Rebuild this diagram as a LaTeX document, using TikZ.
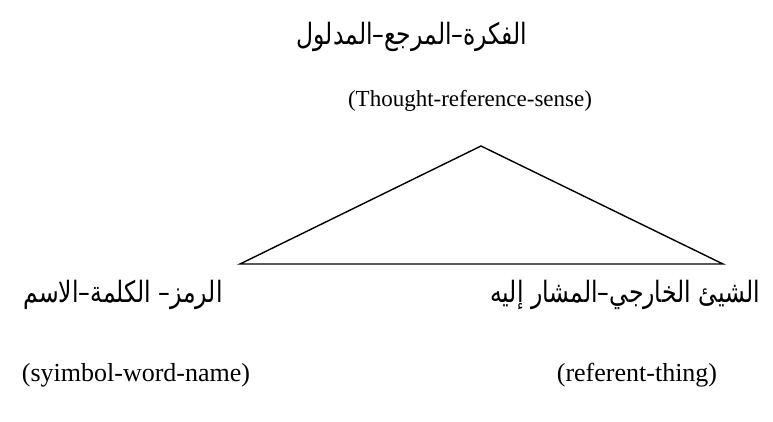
\documentclass[tikz,border=0pt]{standalone}
\usepackage{fontspec}
\setmainfont{Liberation Serif}
\newfontfamily\arabicfont[Script=Arabic]{DejaVu Sans}
\TeXXeTstate=1
\newcommand{\tallar}[1]{\scalebox{1}[1.25]{\arabicfont\beginR #1\endR}}
\begin{document}
\begin{tikzpicture}[x=1pt,y=-1pt,
  ar/.style={font=\fontsize{23.5}{28}\selectfont, anchor=base, inner sep=0pt},
  en/.style={font=\fontsize{23}{27}\selectfont, anchor=base, inner sep=0pt},
  enb/.style={font=\fontsize{26}{30}\selectfont, anchor=base, inner sep=0pt},
  tri/.style={draw=black, line width=1.4pt, line join=miter}]
\useasboundingbox (0,0) rectangle (773,421);
\node[ar] (top) at (412,44) {\tallar{الفكرة–المرجع–المدلول}};
\node[en] (topen) at (470,106) {(Thought-reference-sense)};
\coordinate (apex) at (481,146);
\coordinate (bl) at (240,264);
\coordinate (br) at (723,264);
\draw[tri] (apex) -- (br) -- (bl) -- cycle;
\node[ar] (left) at (123,302) {\tallar{الرمز– الكلمة–الاسم}};
\node[ar] (right) at (625,302) {\tallar{الشيئ الخارجي–المشار إليه}};
\node[enb] (leften) at (136,381) {(syimbol-word-name)};
\node[enb] (righten) at (637,381) {(referent-thing)};
\end{tikzpicture}
\end{document}
